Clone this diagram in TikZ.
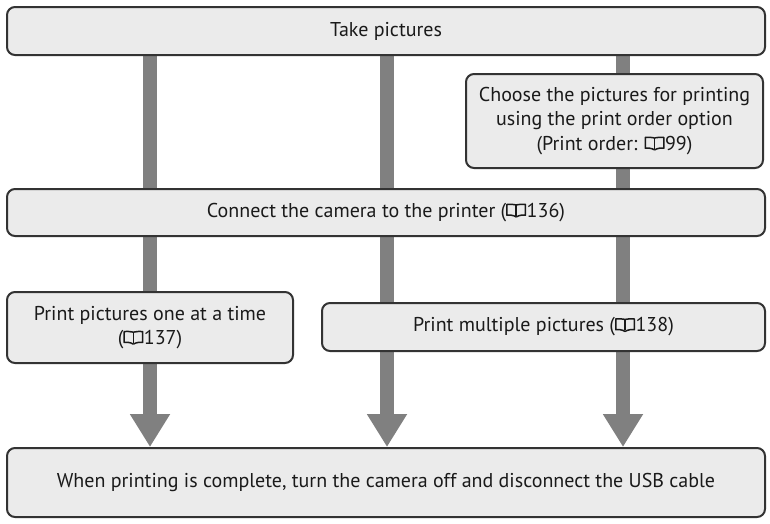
\documentclass[tikz,border=0pt]{standalone}
\usepackage{fontspec}
\setmainfont{PT Sans}
\usetikzlibrary{arrows.meta,backgrounds}
\definecolor{boxfill}{HTML}{EBEBEB}
\definecolor{boxline}{HTML}{333333}
\definecolor{barcol}{HTML}{808080}
\definecolor{txt}{HTML}{1A1A1A}
\newcommand\bookic{\tikz[baseline=0pt,x=1pt,y=1pt,sharp corners,line width=1.5pt,line join=round,draw=txt]{%
  \draw (10,1.5) -- (10,12.5);
  \draw (10,12.5) .. controls (7,13.3) and (3,13.3) .. (0.75,13) -- (0.75,2.2) .. controls (3,2.6) and (7,2.4) .. (10,0.5);
  \draw (10,12.5) .. controls (13,13.3) and (17,13.3) .. (19.25,13) -- (19.25,2.2) .. controls (17,2.6) and (13,2.4) .. (10,0.5);
}\hspace{0.5pt}}
\tikzset{
  flowbox/.style={draw=boxline, line width=2pt, fill=boxfill, rounded corners=8pt,
    text=txt, align=center, inner sep=0pt, font=\fontsize{20}{24.5}\selectfont},
  bar/.style={draw=barcol, line width=14pt,
    -{Triangle[width=38pt,length=33pt]}}
}
\begin{document}
\begin{tikzpicture}[x=1pt,y=-1pt]
\useasboundingbox (0,0) rectangle (770,523);
\node[flowbox, minimum width=758pt, minimum height=48pt] (top) at (386,31) {Take pictures};
\node[flowbox, minimum width=297pt, minimum height=94pt] (choose) at (614.5,121)
  {Choose the pictures for printing\\using the print order option\\(Print order: \bookic 99)};
\node[flowbox, minimum width=758pt, minimum height=47pt] (connect) at (386,212.5)
  {Connect the camera to the printer (\bookic 136)};
\node[flowbox, minimum width=286pt, minimum height=71pt] (one) at (150,327.5)
  {Print pictures one at a time\\(\bookic 137)};
\node[flowbox, minimum width=443pt, minimum height=48pt] (multi) at (543.5,327)
  {Print multiple pictures (\bookic 138)};
\node[flowbox, minimum width=758pt, minimum height=69pt] (bottom) at (386,482.5)
  {When printing is complete, turn the camera off and disconnect the USB cable};
\coordinate (c1) at (150,31);
\coordinate (c2) at (387,31);
\coordinate (c3) at (623,31);
\begin{scope}[on background layer]
  \draw[bar] (c1) -- (c1 |- bottom.north);
  \draw[bar] (c2) -- (c2 |- bottom.north);
  \draw[bar] (c3) -- (c3 |- bottom.north);
\end{scope}
\end{tikzpicture}
\end{document}
